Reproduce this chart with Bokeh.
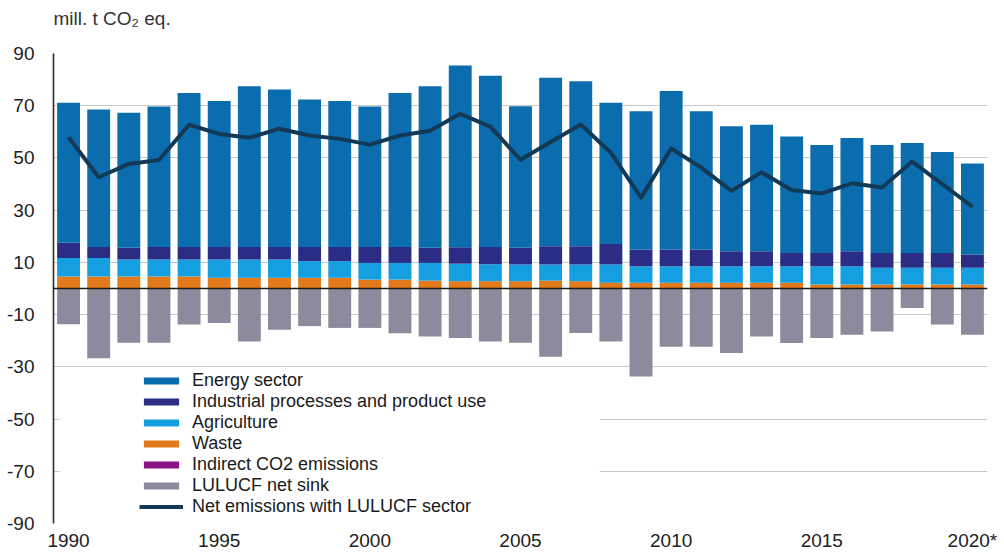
from bokeh.plotting import figure
from bokeh.models import (ColumnDataSource, Legend, LegendItem, FixedTicker, Span,
                          BoxAnnotation, Range1d)
from bokeh.embed import file_html
from bokeh.resources import INLINE

years = list(range(1990, 2021))
energy = [53.6, 52.7, 51.7, 53.8, 59.0, 55.9, 61.6, 60.3, 56.5, 55.9, 53.8, 59.0, 61.9, 69.6, 65.6,
          54.2, 64.5, 63.2, 54.1, 53.0, 60.7, 53.0, 47.8, 48.4, 44.6, 41.4, 43.3, 41.4, 42.1, 38.7, 34.9]
industrial = [5.8, 4.2, 4.5, 4.8, 4.8, 4.8, 4.8, 4.8, 5.4, 5.4, 6.1, 6.1, 5.8, 6.3, 6.6,
              6.4, 7.0, 7.0, 7.8, 6.4, 6.4, 6.4, 5.8, 5.8, 5.1, 5.1, 5.8, 5.7, 5.7, 5.7, 5.1]
agriculture = [7.1, 7.1, 6.5, 6.5, 6.5, 7.0, 7.0, 7.0, 6.4, 6.4, 6.4, 6.4, 6.8, 6.7, 6.5,
               6.4, 6.2, 6.4, 7.0, 6.3, 6.3, 6.3, 6.3, 6.3, 6.3, 7.0, 7.0, 6.4, 6.4, 6.4, 6.4]
waste = [4.6, 4.6, 4.6, 4.6, 4.6, 4.1, 4.1, 4.1, 4.1, 4.1, 3.4, 3.4, 3.0, 2.8, 2.8,
         2.8, 3.0, 2.8, 2.2, 2.2, 2.2, 2.2, 2.2, 2.2, 2.2, 1.5, 1.5, 1.5, 1.5, 1.5, 1.5]
indirect = [0.0, 0.0, 0.0, 0.0, 0.0, 0.0, 0.0, 0.0, 0.0, 0.0, 0.0, 0.0, 0.0, 0.0, 0.0,
            0.0, 0.0, 0.0, 0.0, 0.0, 0.0, 0.0, 0.0, 0.0, 0.0, 0.0, 0.0, 0.0, 0.0, 0.0, 0.0]
lulucf = [-13.7, -26.7, -20.8, -20.8, -13.8, -13.2, -20.3, -15.8, -14.4, -15.1, -15.1, -17.1, -18.4, -19.0, -20.3,
          -20.8, -26.1, -17.0, -20.3, -33.7, -22.3, -22.3, -24.7, -18.4, -20.9, -19.0, -17.7, -16.5, -7.5, -13.8, -17.7]
net = [57.9, 42.6, 47.7, 49.2, 62.7, 59.2, 57.7, 61.2, 58.6, 57.3, 55.1, 58.6, 60.4, 66.9, 62.0,
       49.3, 56.1, 62.8, 52.0, 34.8, 53.6, 46.3, 37.4, 44.5, 37.7, 36.4, 40.3, 38.7, 48.6, 40.0, 31.3]

y_ticks = [-90, -70, -50, -30, -10, 10, 30, 50, 70, 90]
y_labels = {-90: "-90", -70: "-70", -50: "-50", -30: "-30", -10: "-10",
            10: "10", 30: "30", 50: "50", 70: "70", 90: "90"}
x_ticks = [1990, 1995, 2000, 2005, 2010, 2015, 2020]
x_labels = {2020: "2020*"}
unit_text = "mill. t CO₂ eq."

series_names = ["Energy sector", "Industrial processes and product use", "Agriculture",
                "Waste", "Indirect CO2 emissions", "LULUCF net sink",
                "Net emissions with LULUCF sector"]
colors = {"energy": "#0b6dad", "industrial": "#2b2c84", "agriculture": "#169fe0",
          "waste": "#e27a1c", "indirect": "#8c1585", "lulucf": "#8b8b9d", "net": "#123a57"}

FONT = "Liberation Sans"

src = ColumnDataSource(dict(year=years, energy=energy, industrial=industrial,
                            agriculture=agriculture, waste=waste, indirect=indirect,
                            lulucf=lulucf, net=net, zero=[0] * len(years)))

x0, x1 = years[0] - 0.5, years[-1] + 0.5
p = figure(width=1004, height=553, output_backend="svg", toolbar_location=None,
           x_range=Range1d(x0, x1), y_range=Range1d(-90, 90),
           min_border_left=53, min_border_right=17, min_border_top=53, min_border_bottom=29,
           title=unit_text + "\n ")
p.outline_line_color = None
p.background_fill_color = "white"
p.border_fill_color = "white"

p.title.text_font = FONT
p.title.text_font_size = "19px"
p.title.text_font_style = "normal"
p.title.text_color = "#333333"
p.title.text_line_height = 1.15
p.title.standoff = 0
p.title.align = "left"

# grid
p.xgrid.grid_line_color = None
p.ygrid.grid_line_color = "#c9c9c9"
p.ygrid.grid_line_width = 1.2
p.ygrid.ticker = FixedTicker(ticks=y_ticks)

# y axis
p.yaxis.ticker = FixedTicker(ticks=y_ticks)
p.yaxis.major_label_overrides = y_labels
p.yaxis.axis_line_color = "#2a2a2a"
p.yaxis.axis_line_width = 1.6
p.yaxis.major_tick_line_color = None
p.yaxis.minor_tick_line_color = None
p.yaxis.major_label_standoff = 13
p.yaxis.major_label_text_font = FONT
p.yaxis.major_label_text_font_size = "19px"
p.yaxis.major_label_text_color = "#222222"

# x axis
p.xaxis.ticker = FixedTicker(ticks=x_ticks)
p.xaxis.major_label_overrides = x_labels
p.xaxis.axis_line_color = None
p.xaxis.major_tick_line_color = None
p.xaxis.minor_tick_line_color = None
p.xaxis.major_label_standoff = 0
p.xaxis.major_label_text_font = FONT
p.xaxis.major_label_text_font_size = "19px"
p.xaxis.major_label_text_color = "#222222"

# white area behind the legend (hides gridlines there)
p.add_layout(BoxAnnotation(left=1989.7, right=2007.62, top=-31.3, bottom=-88.6,
                           fill_color="white", fill_alpha=1.0, line_color=None,
                           level="underlay"))

bw = 0.76
stack_keys = ["waste", "indirect", "agriculture", "industrial", "energy"]
rs = p.vbar_stack(stack_keys, x="year", width=bw, source=src,
                  color=[colors[k] for k in stack_keys], line_color=None)
r_by = dict(zip(stack_keys, rs))
r_lul = p.vbar(x="year", top="zero", bottom="lulucf", width=bw, source=src,
               fill_color=colors["lulucf"], line_color=None)

p.add_layout(Span(location=0, dimension="width", line_color="#1e1a16", line_width=1.6))

r_net = p.line(x="year", y="net", source=src, line_color=colors["net"], line_width=4,
               line_join="round")

items = [LegendItem(label=series_names[0], renderers=[r_by["energy"]]),
         LegendItem(label=series_names[1], renderers=[r_by["industrial"]]),
         LegendItem(label=series_names[2], renderers=[r_by["agriculture"]]),
         LegendItem(label=series_names[3], renderers=[r_by["waste"]]),
         LegendItem(label=series_names[4], renderers=[r_by["indirect"]]),
         LegendItem(label=series_names[5], renderers=[r_lul]),
         LegendItem(label=series_names[6], renderers=[r_net])]
legend = Legend(items=items, location=(86, 6), padding=5, spacing=0,
                glyph_width=44, glyph_height=9, label_height=18, label_standoff=9,
                label_text_font=FONT, label_text_font_size="18px",
                label_text_color="#1a1a1a",
                background_fill_alpha=0, border_line_color=None, margin=0)
p.add_layout(legend, "center")

open("out.html", "w").write(file_html(p, INLINE))
